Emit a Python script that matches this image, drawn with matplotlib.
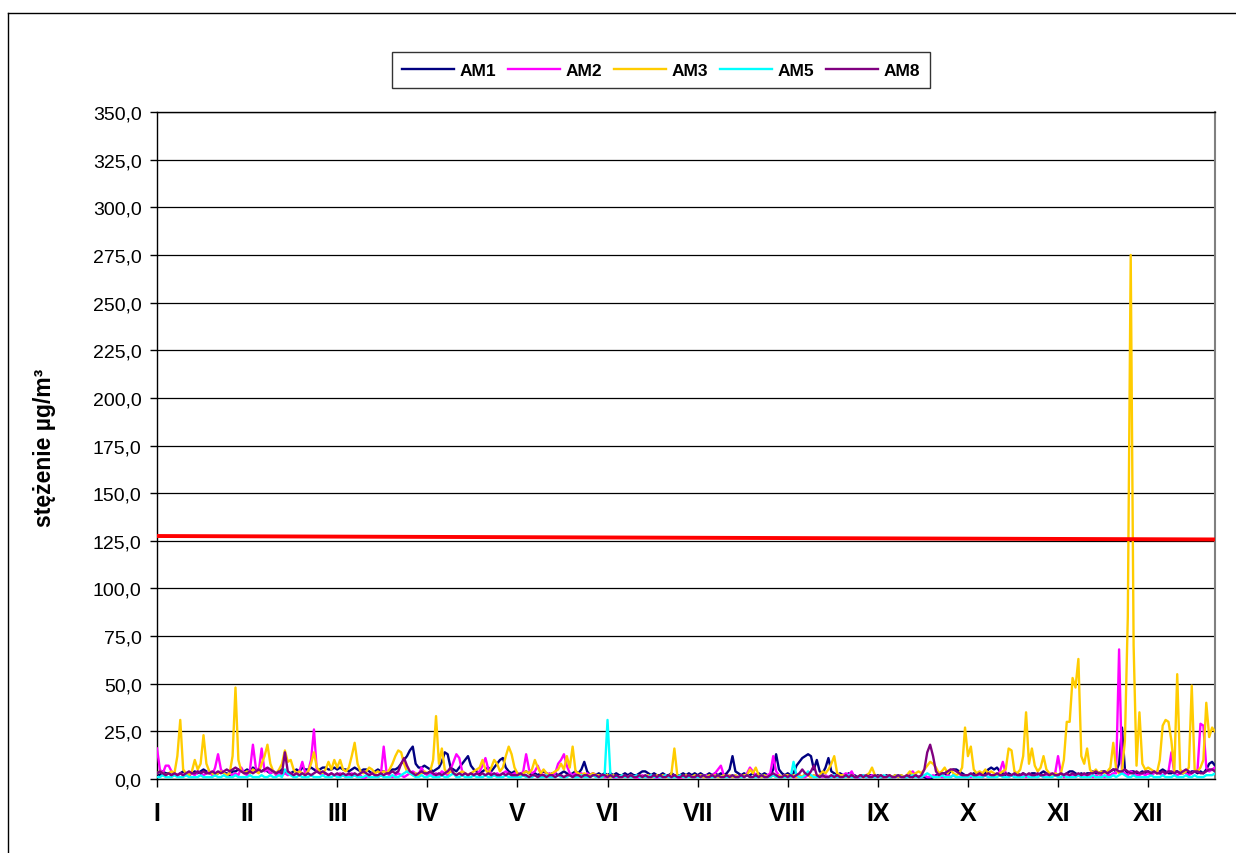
import numpy as np
import matplotlib
matplotlib.use("Agg")
import matplotlib.pyplot as plt
from matplotlib.lines import Line2D

plt.rcParams['font.family'] = ['Liberation Sans', 'DejaVu Sans']

month_labels = ["I", "II", "III", "IV", "V", "VI", "VII", "VIII", "IX", "X", "XI", "XII"]
series_names = ["AM1", "AM2", "AM3", "AM5", "AM8"]

am1 = [3,2,4,3,3,2,3,2,3,4, 3,2,3,4,3,4,5,4,3,3, 2,3,4,3,3,2,4,4,5,4, 4,
       5,4,6,5,4,4,5,4,3,4, 3,4,5,4,3,3,4,5,4,6, 5,5,6,5,4,5,6,6,5,5, 6,
       5,6,5,5,4,5,6,5,4,5, 5,4,3,4,5,4,4,3,4,5, 5,6,8,10,12,15,17,8,6,6, 7,
       6,5,4,5,6,9,14,13,6,5, 4,6,8,10,12,7,5,4,3,4, 5,6,4,6,8,10,11,6,4,3, 4,
       3,2,3,4,3,2,3,2,3,4, 3,2,3,3,2,3,4,3,2,3, 4,3,5,9,4,2,3,2,3,2, 3,
       2,3,2,3,2,2,3,2,3,2, 2,3,4,4,3,2,3,2,2,3, 2,2,3,2,2,2,3,2,3,2, 3,
       2,3,2,2,3,2,3,2,3,2, 3,5,12,4,3,2,3,2,2,3, 2,3,2,3,2,2,5,13,5,3, 2,
       3,2,3,7,9,11,12,13,12,5, 10,4,3,6,11,4,3,2,3,2, 2,3,2,2,1,2,2,1,2,2, 1,
       2,1,1,2,1,1,2,1,2,1, 1,2,1,2,1,1,1,0,0,1, 2,2,3,3,2,4,5,5,4,3, 2,
       2,2,3,2,3,2,3,5,6,5, 6,4,3,2,3,2,2,3,2,3, 2,2,3,3,2,3,4,3,2,2, 3,
       2,3,2,3,4,4,3,2,3,2, 3,3,4,3,3,4,4,3,4,5, 4,8,27,5,3,4,4,3,3,4, 3,
       4,3,4,3,4,5,4,3,3,4, 4,3,3,4,3,4,4,3,4,3, 5,8,9,7]

am2 = [16,5,3,7,7,4,3,2,3,2, 3,2,3,2,4,3,2,3,4,2, 6,13,5,3,2,3,2,3,2,6, 3,
       2,5,18,6,4,16,4,5,3,4, 2,3,2,3,2,3,2,3,4,9, 3,4,10,26,4,3,2,3,2,3, 2,
       2,3,2,1,2,3,2,1,2,0, 1,2,3,2,1,2,17,3,2,1, 2,3,2,1,2,3,4,3,2,6, 3,
       2,3,2,3,2,4,3,2,5,9, 13,11,4,3,2,3,2,3,4,7, 11,5,3,2,3,2,3,4,3,2, 3,
       3,2,4,13,5,3,4,7,3,2, 2,3,2,3,8,10,13,7,3,2, 3,2,3,2,3,2,3,2,1,2, 1,
       1,2,1,0,1,2,1,1,2,1, 0,1,2,1,1,2,1,0,1,1, 2,1,1,2,1,0,1,1,2,1, 1,
       1,2,1,2,1,2,3,5,7,2, 1,2,1,2,1,2,1,3,6,4, 2,1,2,1,2,3,12,4,2,1, 2,
       1,2,1,1,2,1,1,2,1,2, 1,2,1,2,1,1,2,1,1,2, 3,2,4,1,0,1,2,1,1,2, 1,
       1,2,1,1,2,1,1,2,1,1, 2,3,4,2,1,1,2,1,1,2, 1,2,1,1,2,1,2,1,1,2, 1,
       2,1,2,1,2,1,2,1,2,1, 2,4,9,3,1,2,1,2,1,2, 1,2,1,2,1,2,1,2,3,2, 3,
       12,3,1,2,1,2,1,2,1,2, 1,2,1,2,1,2,1,2,2,3, 3,68,4,3,2,4,3,2,2,3, 2,
       3,2,3,4,3,2,3,4,14,3, 2,3,4,3,2,3,4,5,29,28, 6,4,5,6]

am3 = [3,4,3,2,3,4,3,12,31,5, 3,2,4,10,5,8,23,8,4,3, 2,3,4,3,2,3,12,48,10,4, 3,
       4,3,5,4,3,8,12,18,8,4, 3,5,8,15,9,10,5,3,4,3, 2,4,8,14,6,4,3,5,9,5, 10,
       6,10,5,4,6,12,19,8,4,3, 4,6,5,3,4,3,4,3,5,8, 12,15,14,8,4,3,2,3,2,3, 4,
       3,4,10,33,8,16,5,3,4,3, 2,3,4,3,2,3,4,5,6,10, 5,3,6,10,8,4,6,12,17,13, 6,
       3,2,3,4,3,5,10,6,3,5, 3,2,3,4,5,8,5,12,6,17, 4,3,2,3,2,2,3,2,2,1, 2,
       2,1,2,1,1,2,1,1,2,1, 1,2,1,1,2,1,1,2,1,2, 1,1,3,16,2,1,1,2,1,1, 2,
       1,2,1,1,2,1,2,1,1,2, 1,2,1,2,1,1,2,2,5,3, 6,2,1,2,1,1,2,1,2,1, 2,
       2,1,2,1,2,1,3,2,1,2, 1,2,4,3,5,8,12,3,2,2, 1,1,2,1,1,2,1,2,3,6, 2,
       1,2,1,1,2,1,2,1,2,1, 2,4,2,3,4,3,5,7,9,8, 6,3,4,6,3,5,3,2,3,6, 27,
       12,17,5,3,4,3,5,3,4,3, 2,3,4,5,16,15,4,3,5,12, 35,8,16,7,4,6,12,5,3,2, 3,
       2,3,10,30,30,53,48,63,12,8, 16,5,3,5,3,4,3,4,6,19, 5,3,4,20,85,275,70,7,35,8, 5,
       6,5,4,3,10,28,31,30,20,4, 55,5,3,4,6,49,5,4,6,10, 40,22,27,25]

am5 = [1,1,2,1,1,1,2,1,1,1, 2,1,1,1,1,2,1,1,1,1, 2,1,1,2,1,1,1,2,1,1, 1,
       1,2,1,1,1,2,1,1,2,1, 1,2,1,5,3,2,1,1,2,1, 1,1,2,1,1,1,2,1,1,1, 2,
       1,1,2,1,1,1,2,1,1,1, 2,1,1,1,1,2,1,1,1,2, 1,1,2,3,4,3,2,1,1,2, 1,
       1,2,1,1,1,2,1,1,2,3, 1,1,2,1,1,1,2,1,1,1, 2,1,1,2,1,1,1,2,1,1, 1,
       1,1,2,1,1,1,2,1,1,1, 2,1,1,1,2,1,1,1,2,1, 1,1,2,1,1,1,2,1,1,1, 2,
       31,2,1,1,1,2,1,1,1,1, 2,1,1,1,1,2,1,1,1,1, 2,1,1,1,1,2,1,1,1,1, 1,
       1,1,2,1,1,1,1,2,1,1, 1,1,2,1,1,1,1,2,1,1, 1,1,2,1,1,1,2,1,1,1, 1,
       1,1,9,2,1,1,2,4,2,1, 1,1,2,1,1,1,2,1,1,1, 1,2,1,1,1,1,2,1,1,1, 1,
       1,1,2,1,1,1,1,2,1,1, 1,1,2,1,1,1,2,3,2,1, 1,1,2,1,1,1,2,1,1,1, 1,
       1,2,1,1,1,1,2,1,1,1, 1,2,1,1,1,2,1,1,1,1, 2,1,1,1,1,2,1,1,1,1, 2,
       1,1,2,1,1,1,1,2,1,1, 1,1,2,1,1,1,2,1,1,2, 1,2,3,2,1,1,2,1,1,1, 1,
       1,2,1,1,1,2,1,1,1,2, 1,1,1,2,1,1,2,1,1,1, 2,2,2,3]

am8 = [3,4,3,2,3,2,3,2,3,2, 3,4,3,3,4,3,4,3,3,4, 3,4,3,4,5,4,5,6,5,4, 3,
       3,4,3,4,5,4,5,6,5,4, 3,4,3,14,4,3,2,3,2,3, 2,3,2,3,4,3,4,3,2,3, 2,
       3,2,3,2,3,2,3,2,3,4, 3,2,3,2,2,3,2,3,3,4, 3,4,8,11,7,4,3,2,3,4, 3,
       3,4,3,2,3,2,3,4,6,3, 2,3,2,3,2,3,2,3,2,3, 2,3,2,3,2,2,3,2,3,2, 2,
       2,3,2,2,1,2,2,1,2,2, 1,2,2,1,2,2,1,2,2,1, 2,2,1,2,2,1,2,2,1,2, 2,
       1,2,1,2,1,1,2,1,2,1, 1,2,1,2,1,1,2,1,2,1, 1,2,1,2,1,1,2,1,2,1, 1,
       2,1,2,1,1,2,1,2,1,1, 2,1,2,1,1,2,1,2,1,1, 2,1,2,1,1,2,3,2,1,1, 2,
       1,2,1,2,3,5,3,2,4,7, 2,1,2,1,1,2,1,2,1,1, 2,1,2,1,1,2,1,2,1,1, 2,
       1,2,1,1,2,1,1,2,1,1, 2,1,1,2,1,2,5,14,18,12, 4,2,3,3,4,5,5,4,3,2, 2,
       2,3,2,2,3,2,2,3,2,2, 3,2,2,3,2,2,3,2,2,3, 2,3,2,2,3,2,2,3,2,3, 2,
       2,3,2,3,2,3,2,3,2,3, 2,3,3,4,3,3,4,3,4,5, 5,4,4,5,4,3,3,4,3,3, 4,
       4,3,4,3,3,4,3,4,4,3, 4,3,4,5,4,3,4,4,3,3, 4,5,5,4]

limit_days = [0, 364]
limit_values = [127.5, 125.7]

colors = ["#000080", "#FF00FF", "#FFCC00", "#00FFFF", "#800080"]

fig = plt.figure(figsize=(12.36, 8.54), dpi=100)
ax = fig.add_axes([157/1236, 1-780/854, (1215-157)/1236, (780-113)/854])

for name, vals, c in zip(series_names, [am1, am2, am3, am5, am8], colors):
    ax.plot(np.arange(len(vals)), vals, color=c, lw=1.7, label=name, solid_joinstyle='round', zorder=3)

ax.plot(limit_days, limit_values, color="#FF0000", lw=2.8, zorder=4)

ax.set_xlim(0, 364)
ax.set_ylim(0, 350)
yt = np.arange(0, 351, 25)
ax.set_yticks(yt)
ax.set_yticklabels([f"{v:.1f}".replace('.', ',') for v in yt], fontsize=14)
ax.set_xticks(np.arange(12) * 31)
ax.set_xticklabels(month_labels, fontsize=18, fontweight='bold')
ax.tick_params(axis='x', length=6, width=1, pad=10, direction='out')
ax.tick_params(axis='y', length=5, width=1, pad=6, direction='out')
ax.yaxis.grid(True, color='black', lw=0.9)
ax.set_axisbelow(True)
for s in ['left', 'bottom', 'top']:
    ax.spines[s].set_color('black')
    ax.spines[s].set_linewidth(1)
ax.spines['right'].set_color('#808080')
ax.spines['right'].set_linewidth(1.5)

fig.text(45/1236, 1-448/854, "stężenie µg/m³", rotation=90, fontsize=16.5, fontweight='bold',
         ha='center', va='center')

leg = fig.legend(loc='center', bbox_to_anchor=(661/1236, 1-71/854), ncol=5,
                 prop={'weight': 'bold', 'size': 12.5}, frameon=True, fancybox=False,
                 edgecolor='black', handlelength=3.0, columnspacing=0.7, handletextpad=0.3,
                 borderpad=0.6)
leg.get_frame().set_linewidth(1.0)

fig.add_artist(Line2D([8/1236, 8/1236], [0, 1-14/854], transform=fig.transFigure, color='black', lw=1))
fig.add_artist(Line2D([8/1236, 1], [1-14/854, 1-14/854], transform=fig.transFigure, color='black', lw=1))

fig.savefig("out.png", dpi=100)
